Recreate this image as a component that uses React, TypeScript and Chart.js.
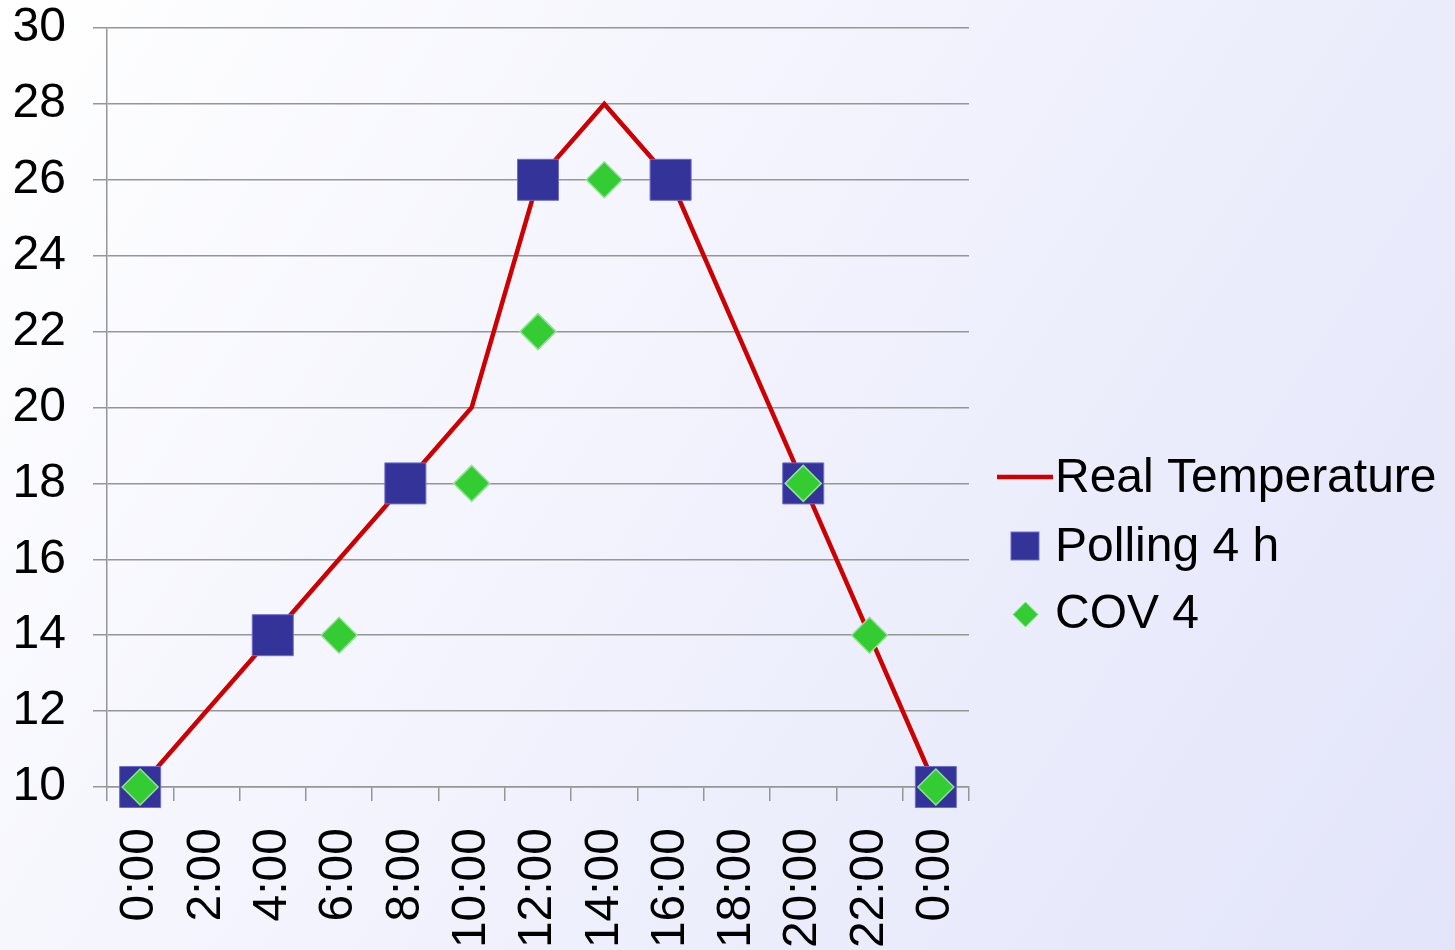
import React, { useEffect, useRef } from "react";
import { Chart, registerables } from "chart.js";

Chart.register(...registerables);

const categories = ["0:00", "2:00", "4:00", "6:00", "8:00", "10:00", "12:00", "14:00", "16:00", "18:00", "20:00", "22:00", "0:00"];
const realTemperature = [10, 12, 14, 16, 18, 20, 26, 28, 26, 22, 18, 14, 10];
const polling4h = [10, null, 14, null, 18, null, 26, null, 26, null, 18, null, 10];
const cov4 = [10, null, null, 14, null, 18, 22, 26, null, null, 18, 14, 10];
const seriesNames = ["Real Temperature", "Polling 4 h", "COV 4"];
const yMin = 10;
const yMax = 30;
const yStep = 2;

const FONT = "'Liberation Sans', Arial, sans-serif";
const FONT_SIZE = 48;
const RED = "rgb(204,0,0)";
const BLUE = "rgb(51,51,153)";
const GREEN = "rgb(51,204,51)";
const GRID = "rgb(150,150,150)";

const backgroundPlugin = {
  id: "bgGradient",
  beforeDraw(chart: any) {
    const { ctx, width, height } = chart;
    ctx.save();
    const g = ctx.createLinearGradient(0, 0, width, height);
    g.addColorStop(0, "rgb(255,255,255)");
    g.addColorStop(1, "rgb(226,228,250)");
    ctx.fillStyle = g;
    ctx.fillRect(0, 0, width, height);
    ctx.restore();
  },
};

const legendPlugin = {
  id: "customLegend",
  afterDraw(chart: any) {
    const ctx = chart.ctx;
    ctx.save();
    const textX = 1055;
    const rows = [492, 561, 628];
    ctx.strokeStyle = RED;
    ctx.lineWidth = 4.5;
    ctx.beginPath();
    ctx.moveTo(997, 477);
    ctx.lineTo(1053, 477);
    ctx.stroke();
    ctx.fillStyle = BLUE;
    ctx.fillRect(1011, 532, 28, 28);
    ctx.strokeStyle = "rgb(110,110,200)";
    ctx.lineWidth = 1;
    ctx.strokeRect(1011, 532, 28, 28);
    ctx.beginPath();
    ctx.moveTo(1025.5, 602);
    ctx.lineTo(1038, 614.5);
    ctx.lineTo(1025.5, 627);
    ctx.lineTo(1013, 614.5);
    ctx.closePath();
    ctx.fillStyle = GREEN;
    ctx.fill();
    ctx.strokeStyle = "rgb(150,225,150)";
    ctx.stroke();
    ctx.fillStyle = "#000";
    ctx.font = `${FONT_SIZE}px ${FONT}`;
    ctx.textAlign = "left";
    ctx.textBaseline = "alphabetic";
    seriesNames.forEach((name, i) => ctx.fillText(name, textX, rows[i]));
    ctx.restore();
  },
};

export default function App() {
  const ref = useRef<HTMLCanvasElement>(null);
  useEffect(() => {
    document.body.style.margin = "0";
    const chart = new Chart(ref.current as HTMLCanvasElement, {
      type: "line",
      data: {
        labels: categories,
        datasets: [
          {
            label: seriesNames[0],
            data: realTemperature,
            borderColor: RED,
            borderWidth: 4.5,
            pointRadius: 0,
            tension: 0,
            fill: false,
            clip: false,
            order: 3,
          },
          {
            label: seriesNames[1],
            data: polling4h as any,
            showLine: false,
            pointStyle: "rect",
            pointRadius: 29,
            backgroundColor: BLUE,
            borderColor: "rgb(110,110,200)",
            pointBorderWidth: 1,
            clip: false,
            order: 2,
          },
          {
            label: seriesNames[2],
            data: cov4 as any,
            showLine: false,
            pointStyle: "rectRot",
            pointRadius: 18,
            backgroundColor: GREEN,
            borderColor: "rgb(150,225,150)",
            pointBorderWidth: 1.5,
            clip: false,
            order: 1,
          },
        ],
      },
      options: {
        responsive: false,
        devicePixelRatio: 1,
        animation: false,
        layout: { autoPadding: false, padding: { top: 28, right: 486, left: 0, bottom: 0 } },
        plugins: {
          legend: { display: false },
          tooltip: { enabled: false },
        },
        scales: {
          x: {
            type: "category",
            offset: true,
            grid: {
              offset: true,
              drawOnChartArea: false,
              drawTicks: true,
              tickLength: 14,
              color: GRID,
              lineWidth: 1.5,
            },
            border: { display: true, color: GRID, width: 1.5 },
            ticks: {
              minRotation: 90,
              maxRotation: 90,
              autoSkip: false,
              padding: 27,
              color: "#000",
              font: { size: FONT_SIZE, family: FONT },
            },
            afterFit(scale: any) {
              scale.height = 163;
              scale.paddingLeft = 0;
              scale.paddingRight = 0;
            },
          },
          y: {
            min: yMin,
            max: yMax,
            ticks: {
              stepSize: yStep,
              padding: 27,
              color: "#000",
              font: { size: FONT_SIZE, family: FONT },
            },
            grid: {
              drawOnChartArea: true,
              drawTicks: true,
              tickLength: 14,
              color: GRID,
              lineWidth: 1.5,
            },
            border: { display: true, color: GRID, width: 1.5 },
            afterFit(scale: any) {
              scale.width = 107;
              scale.paddingTop = 0;
              scale.paddingBottom = 0;
            },
          },
        },
      },
      plugins: [backgroundPlugin, legendPlugin],
    });
    return () => chart.destroy();
  }, []);
  return <canvas ref={ref} width={1455} height={950} style={{ display: "block" }} />;
}
